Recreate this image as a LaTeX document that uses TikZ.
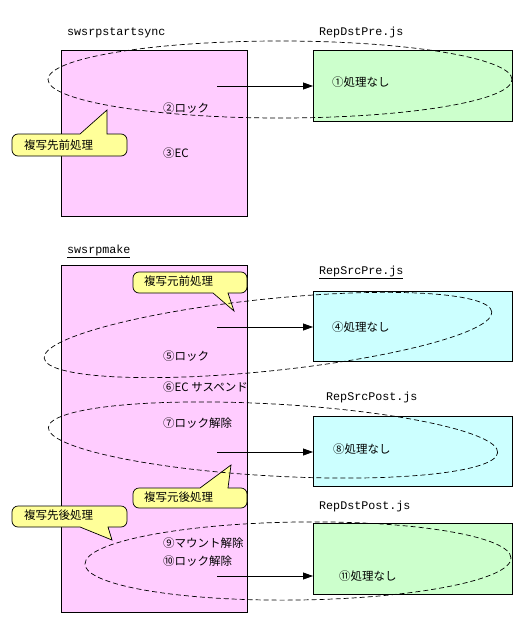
\documentclass[tikz,border=0pt]{standalone}
\usepackage{fontspec}
\setmainfont{Noto Sans CJK JP}
\newfontfamily\lmono{Liberation Mono}
\usetikzlibrary{arrows.meta}
\definecolor{pinkf}{HTML}{FFCCFF}
\definecolor{greenf}{HTML}{CCFFCC}
\definecolor{cyanf}{HTML}{CCFFFF}
\definecolor{yellowf}{HTML}{FFFF99}
\begin{document}
\begin{tikzpicture}[x=1pt,y=-1pt,
  box/.style={draw=black,line width=0.8pt},
  fname/.style={anchor=west,inner sep=0pt,font=\lmono\fontsize{11.7}{12}\selectfont},
  txt/.style={anchor=west,inner sep=0pt,font=\fontsize{11.5}{12}\selectfont},
  ctxt/.style={anchor=west,inner sep=0pt,font=\fontsize{11.5}{12}\selectfont},
  arr/.style={line width=0.8pt,-{Triangle[length=10pt,width=7pt]}},
  ell/.style={dashed,dash pattern=on 5pt off 3pt,line width=0.7pt},
  callout/.style={draw=black,line width=0.7pt,fill=yellowf}]
\useasboundingbox (0,0) rectangle (529,637);
% boxes
\path[box,fill=pinkf] (61,50) rectangle (247,216);
\path[box,fill=pinkf] (61,265) rectangle (247,612);
\node[box,fill=greenf,minimum width=199pt,minimum height=71pt,inner sep=0pt,anchor=north west] (g1) at (313,50) {};
\node[box,fill=cyanf,minimum width=199pt,minimum height=70pt,inner sep=0pt,anchor=north west] (c1) at (313,291) {};
\node[box,fill=cyanf,minimum width=199pt,minimum height=70pt,inner sep=0pt,anchor=north west] (c2) at (313,416) {};
\node[box,fill=greenf,minimum width=199pt,minimum height=71pt,inner sep=0pt,anchor=north west] (g2) at (313,523) {};
% file names
\node[fname] (n1) at (67,33) {swsrpstartsync};
\node[fname] (n2) at (67,251) {\underline{swsrpmake}};
\node[fname] (n3) at (319,32) {RepDstPre.js};
\node[fname] (n4) at (319,272) {\underline{RepSrcPre.js}};
\node[fname] (n5) at (326,397) {RepSrcPost.js};
\node[fname] (n6) at (319,506) {RepDstPost.js};
% callouts
\draw[callout] (80,134) -- (107,110) -- (107,134) [rounded corners=6pt] -- (127,134) -- (127,156) -- (12,156) -- (12,134) [sharp corners] -- cycle;
\node[ctxt] (k1) at (24,145) {複写先前処理};
\draw[callout] (228,293) -- (234,311) -- (213,293) [rounded corners=6pt] -- (133,293) -- (133,272) -- (247,272) -- (247,293) [sharp corners] -- cycle;
\node[ctxt] (k2) at (144,281) {複写元前処理};
\draw[callout] (200,488) -- (231,465) -- (228,488) [rounded corners=6pt] -- (247,488) -- (247,508) -- (133,508) -- (133,488) [sharp corners] -- cycle;
\node[ctxt] (k3) at (144,497) {複写元後処理};
\draw[callout] (108,527) -- (112,540) -- (80,527) [rounded corners=6pt] -- (12,527) -- (12,506) -- (127,506) -- (127,527) [sharp corners] -- cycle;
\node[ctxt] (k4) at (24,515) {複写先後処理};
% texts
\node[txt] (t1) at (332,82) {①処理なし};
\node[txt] (t2) at (163,108) {②ロック};
\node[txt] (t3) at (163,153) {③EC};
\node[txt] (t4) at (332,327) {④処理なし};
\node[txt] (t5) at (163,356) {⑤ロック};
\node[txt] (t6) at (163,387) {⑥EC サスペンド};
\node[txt] (t7) at (163,423) {⑦ロック解除};
\node[txt] (t8) at (333,449) {⑧処理なし};
\node[txt] (t9) at (163,543) {⑨マウント解除};
\node[txt] (t10) at (163,561) {⑩ロック解除};
\node[txt] (t11) at (339,576) {⑪処理なし};
% arrows
\coordinate (s1) at (217,86);
\coordinate (s2) at (217,327);
\coordinate (s3) at (217,452);
\coordinate (s4) at (217,576);
\draw[arr] (s1) -- (s1 -| g1.west);
\draw[arr] (s2) -- (s2 -| c1.west);
\draw[arr] (s3) -- (s3 -| c2.west);
\draw[arr] (s4) -- (s4 -| g2.west);
% ellipses
\draw[ell] (280,79.5) ellipse [x radius=232pt,y radius=38.5pt];
\draw[ell,rotate around={5.9:(268,335)}] (268,335) ellipse [x radius=225pt,y radius=36pt];
\draw[ell,rotate around={-3.2:(273,440)}] (273,440) ellipse [x radius=225pt,y radius=36pt];
\draw[ell,rotate around={0.8:(298,561)}] (298,561) ellipse [x radius=213pt,y radius=39pt];
\end{tikzpicture}
\end{document}
